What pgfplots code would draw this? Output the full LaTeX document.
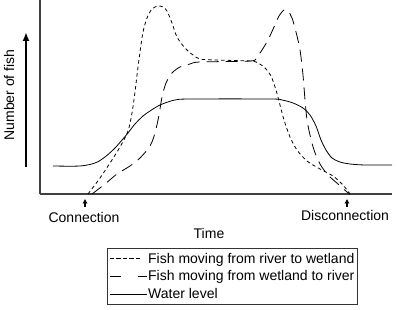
\documentclass[border=0pt]{standalone}
\usepackage{pgfplots}
\pgfplotsset{compat=1.18}
\usepackage{fontspec}
\setmainfont{Liberation Sans}
\usetikzlibrary{arrows.meta}
\begin{document}
\begin{tikzpicture}
\path[use as bounding box] (0,0) rectangle (397bp,310bp);
\begin{axis}[
  at={(40bp,116bp)}, anchor=south west,
  scale only axis, width=352bp, height=194bp,
  xmin=40, xmax=392, ymin=0, ymax=194,
  axis lines=left,
  axis line style={-, black!75, line width=1.1bp},
  xtick=\empty, ytick=\empty,
  clip=false,
  legend style={at={(axis description cs:0.1903,-0.279)}, anchor=north west,
    draw=black!80, line width=0.8bp, inner xsep=2bp, inner ysep=3bp,
    font=\fontsize{14bp}{16bp}\selectfont,
    nodes={inner xsep=1bp, inner ysep=1.5bp},
    row sep=3bp},
  legend cell align=left,
  legend image code/.code={\path (0bp,0bp) -- (37bp,0bp);
     \draw[#1] (1bp,0bp) -- (37bp,0bp);},
]
% Fish moving from river to wetland
\addplot[black, line width=0.8bp, smooth, tension=0.5, dash pattern=on 3.5bp off 3bp,
  legend image post style={dash pattern=on 3.5bp off 3bp on 3.5bp off 3bp on 3.5bp off 3bp on 3.5bp off 3bp on 3.5bp off 20bp}] coordinates {
(88,0) (100,16) (110,31) (120,47) (128,63) (132,81) (135,102) (137,119) (140,142)
(143,162) (147,176) (152,185) (158,188) (163,187) (167,183) (172,171) (177,157)
(185,146) (193,139) (200,135) (215,134) (250,133) (258,131) (265,126) (271,118)
(276,104) (280,89) (284,74) (290,57) (297,44) (307,33) (320,25) (333,18) (343,9) (350,0)};
\addlegendentry{Fish moving from river to wetland}

% Fish moving from wetland to river
\addplot[black, line width=0.8bp, smooth, tension=0.5, dash pattern=on 12bp off 7bp,
  legend image post style={dash pattern=on 10bp off 18bp on 10bp off 10bp}] coordinates {
(92,0) (105,10) (117,20) (130,28) (140,36) (150,48) (155,61) (159,79) (162,97)
(166,111) (172,121) (180,127) (190,130) (200,132) (250,133) (256,136) (262,144)
(268,154) (274,167) (279,178) (284,184) (288,183) (292,176) (296,162) (300,144)
(303,119) (305,94) (307,74) (310,59) (314,44) (320,30) (328,19) (338,10) (347,2) (350,0)};
\addlegendentry{Fish moving from wetland to river}

% Water level
\addplot[black, line width=0.8bp, smooth, tension=0.5] coordinates {
(53,28) (80,28) (95,31) (105,37) (115,46) (122,54) (128,61) (135,70) (143,78)
(150,83) (158,88) (165,91) (175,94) (190,95) (270,95) (282,94) (293,91) (303,86)
(310,79) (316,68) (321,54) (326,44) (332,36) (340,32) (350,30) (365,29) (392,29)};
\addlegendentry{Water level}
\end{axis}

% y label and arrow
\node[rotate=90, font=\fontsize{14bp}{16bp}\selectfont] at (9bp,215bp) {Number of fish};
\draw[-{Latex[length=9bp,width=7bp]}, line width=2.4bp] (26bp,143bp) -- (26bp,278bp);

% connection markers
\draw[-{Latex[length=4.5bp,width=5.5bp]}, line width=1.2bp] (85bp,103bp) -- (85bp,111bp);
\draw[-{Latex[length=4.5bp,width=5.5bp]}, line width=1.2bp] (347bp,103bp) -- (347bp,111bp);
\node[font=\fontsize{14bp}{16bp}\selectfont] at (84bp,93bp) {Connection};
\node[font=\fontsize{14bp}{16bp}\selectfont] at (345bp,95bp) {Disconnection};
\node[font=\fontsize{14bp}{16bp}\selectfont] at (209bp,77bp) {Time};
\end{tikzpicture}
\end{document}
